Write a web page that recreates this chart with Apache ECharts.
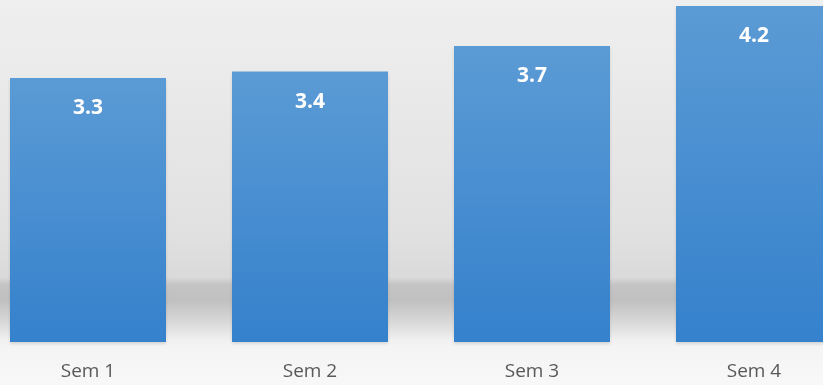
<!DOCTYPE html>
<html>
<head>
<meta charset="utf-8">
<script src="https://cdn.jsdelivr.net/npm/echarts@6/dist/echarts.min.js"></script>
<style>html,body{margin:0;padding:0;background:#f7f7f7}#c{width:823px;height:385px}</style>
</head>
<body>
<div id="c"></div>
<script>
const categories = ['Sem 1', 'Sem 2', 'Sem 3', 'Sem 4'];
const values = [3.3, 3.38, 3.7, 4.2];

const chart = echarts.init(document.getElementById('c'), null, {renderer: 'canvas'});
chart.setOption({
  animation: false,
  backgroundColor: new echarts.graphic.LinearGradient(0, 0, 0, 1, [
    {offset: 0, color: '#efefef'},
    {offset: 0.60, color: '#e1e1e1'},
    {offset: 0.72, color: '#dadada'},
    {offset: 0.74, color: '#c4c4c4'},
    {offset: 0.78, color: '#c0c0c0'},
    {offset: 0.84, color: '#dadada'},
    {offset: 0.88, color: '#efefef'},
    {offset: 0.90, color: '#f4f4f4'},
    {offset: 1, color: '#f8f8f8'}
  ]),
  grid: {left: -23, right: -42, top: 6, bottom: 43, containLabel: false, outerBoundsMode: 'none'},
  xAxis: {
    type: 'category',
    data: categories,
    axisLine: {show: false},
    axisTick: {show: false},
    axisLabel: {color: '#595959', fontSize: 19, fontFamily: 'Open Sans', margin: 20}
  },
  yAxis: {
    type: 'value', min: 0, max: 4.2,
    show: false,
    splitLine: {show: false}
  },
  series: [{
    type: 'bar',
    data: values,
    barWidth: 156,
    itemStyle: {
      color: new echarts.graphic.LinearGradient(0, 0, 0, 1, [
        {offset: 0, color: '#5b9bd5'},
        {offset: 1, color: '#3581cc'}
      ]),
      shadowColor: 'rgba(0,0,0,0.12)',
      shadowBlur: 3,
      shadowOffsetY: 2
    },
    label: {
      show: true,
      position: 'insideTop',
      distance: 20,
      color: '#ffffff',
      fontWeight: 'bold',
      fontSize: 21,
      fontFamily: 'Open Sans',
      formatter: function (p) { return p.value.toFixed(1); }
    }
  }]
});
</script>
</body>
</html>
